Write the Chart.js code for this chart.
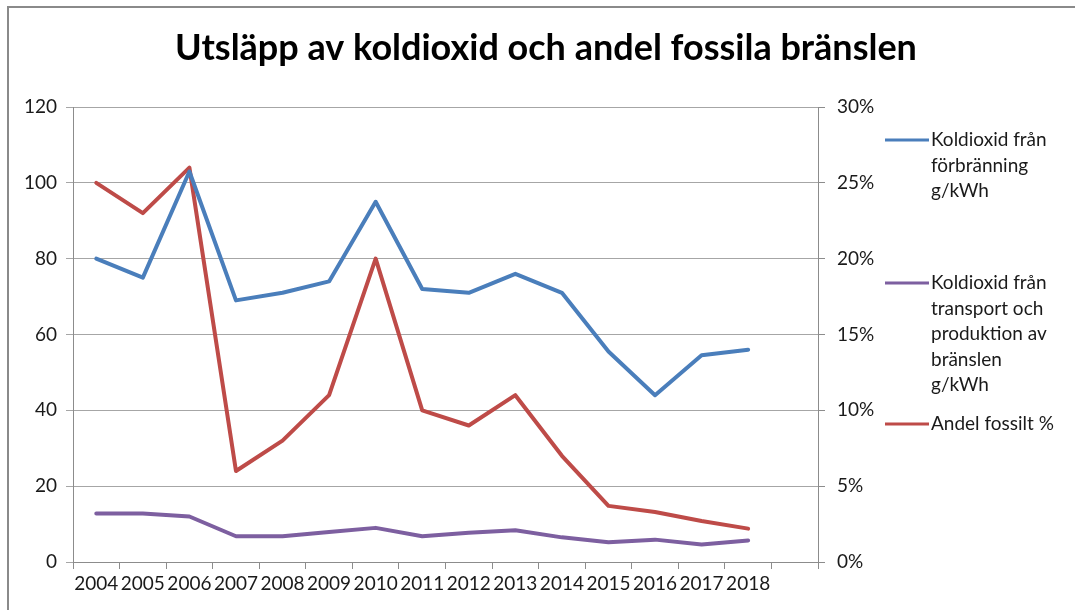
<!DOCTYPE html>
<html>
<head>
<meta charset="utf-8">
<script src="https://cdn.jsdelivr.net/npm/chart.js@4.4.1/dist/chart.umd.min.js"></script>
<style>
  html, body { margin: 0; padding: 0; background: #ffffff; }
  #wrap { width: 1075px; height: 610px; position: relative; }
</style>
</head>
<body>
<div id="wrap"><canvas id="c" width="1075" height="610"></canvas></div>
<script>
const categories = ['2004','2005','2006','2007','2008','2009','2010','2011','2012','2013','2014','2015','2016','2017','2018',''];
const co2Combustion = [80, 75, 103, 69, 71, 74, 95, 72, 71, 76, 71, 55.5, 44, 54.5, 56];
const co2Transport = [12.8, 12.8, 12, 6.8, 6.8, 7.9, 9, 6.8, 7.7, 8.4, 6.5, 5.2, 5.9, 4.6, 5.7];
const fossilShare = [0.25, 0.23, 0.26, 0.06, 0.08, 0.11, 0.20, 0.10, 0.09, 0.11, 0.07, 0.037, 0.033, 0.027, 0.022];
const leftTicks = [0, 20, 40, 60, 80, 100, 120];
const rightTicks = [0, 0.05, 0.10, 0.15, 0.20, 0.25, 0.30];
const seriesNames = [
  ['Koldioxid från', 'förbränning', 'g/kWh'],
  ['Koldioxid från', 'transport och', 'produktion av', 'bränslen', 'g/kWh'],
  ['Andel fossilt %']
];
const titleText = 'Utsläpp av koldioxid och andel fossila bränslen';

const FONT = 'Lato, "Open Sans", sans-serif';
const gridColor = '#a6a6a6';
const axisColor = '#8c8c8c';

const frame = {
  id: 'frame',
  beforeDraw(chart) {
    const ctx = chart.ctx;
    ctx.save();
    ctx.strokeStyle = '#8a8a8a';
    ctx.lineWidth = 2;
    ctx.beginPath();
    ctx.moveTo(8, 610);
    ctx.lineTo(8, 7);
    ctx.lineTo(1075, 7);
    ctx.stroke();
    ctx.restore();
  }
};

const sideLegend = {
  id: 'sideLegend',
  afterDraw(chart) {
    const ctx = chart.ctx;
    const starts = [140, 283, 424];
    const lh = 25.5;
    ctx.save();
    ctx.font = '19px ' + FONT;
    ctx.textBaseline = 'middle';
    ctx.textAlign = 'left';
    chart.data.datasets.forEach((ds, i) => {
      const y0 = starts[i];
      ctx.strokeStyle = ds.borderColor;
      ctx.lineWidth = 3;
      ctx.beginPath();
      ctx.moveTo(885, y0);
      ctx.lineTo(929, y0);
      ctx.stroke();
      ctx.fillStyle = '#1a1a1a';
      seriesNames[i].forEach((t, j) => ctx.fillText(t, 931, y0 + j * lh));
    });
    ctx.restore();
  }
};

new Chart(document.getElementById('c'), {
  type: 'line',
  data: {
    labels: categories,
    datasets: [
      { label: seriesNames[0].join(' '), data: co2Combustion, borderColor: '#4a7ebb', yAxisID: 'y' },
      { label: seriesNames[1].join(' '), data: co2Transport, borderColor: '#7d5fa0', yAxisID: 'y' },
      { label: seriesNames[2].join(' '), data: fossilShare, borderColor: '#be4b48', yAxisID: 'y1' }
    ]
  },
  options: {
    responsive: false,
    animation: false,
    layout: { padding: { left: 17, right: 0, top: 0, bottom: 0 } },
    elements: {
      line: { borderWidth: 4, tension: 0, borderCapStyle: 'round', borderJoinStyle: 'round', fill: false },
      point: { radius: 0, hoverRadius: 0 }
    },
    plugins: {
      legend: { display: false },
      tooltip: { enabled: false },
      title: {
        display: true,
        text: titleText,
        color: '#000',
        font: { family: FONT, size: 36, weight: 'bold', lineHeight: 1.2 },
        padding: { top: 27, bottom: 36.8 }
      }
    },
    scales: {
      x: {
        type: 'category',
        offset: true,
        grid: { display: true, drawOnChartArea: false, drawTicks: true, tickLength: 7, color: axisColor, offset: true },
        border: { display: true, color: axisColor, width: 1 },
        ticks: { color: '#1a1a1a', font: { family: FONT, size: 19 }, maxRotation: 0, autoSkip: false, padding: 3 },
        afterFit(s) { s.height = 48; }
      },
      y: {
        position: 'left',
        min: 0, max: 120,
        afterBuildTicks(s) { s.ticks = leftTicks.map(v => ({ value: v })); },
        grid: { color: gridColor, tickLength: 7, drawTicks: true },
        border: { display: true, color: axisColor },
        ticks: { color: '#1a1a1a', font: { family: FONT, size: 19 }, padding: 9 },
        afterFit(s) { s.width = 56; }
      },
      y1: {
        position: 'right',
        min: 0, max: 0.3,
        afterBuildTicks(s) { s.ticks = rightTicks.map(v => ({ value: v })); },
        grid: { drawOnChartArea: false, color: axisColor, tickLength: 7, drawTicks: true },
        border: { display: true, color: axisColor },
        ticks: { color: '#1a1a1a', font: { family: FONT, size: 19 }, padding: 12,
                 callback: v => Math.round(v * 100) + '%' },
        afterFit(s) { s.width = 1075 - 818; }
      }
    }
  },
  plugins: [frame, sideLegend]
});
</script>
</body>
</html>
